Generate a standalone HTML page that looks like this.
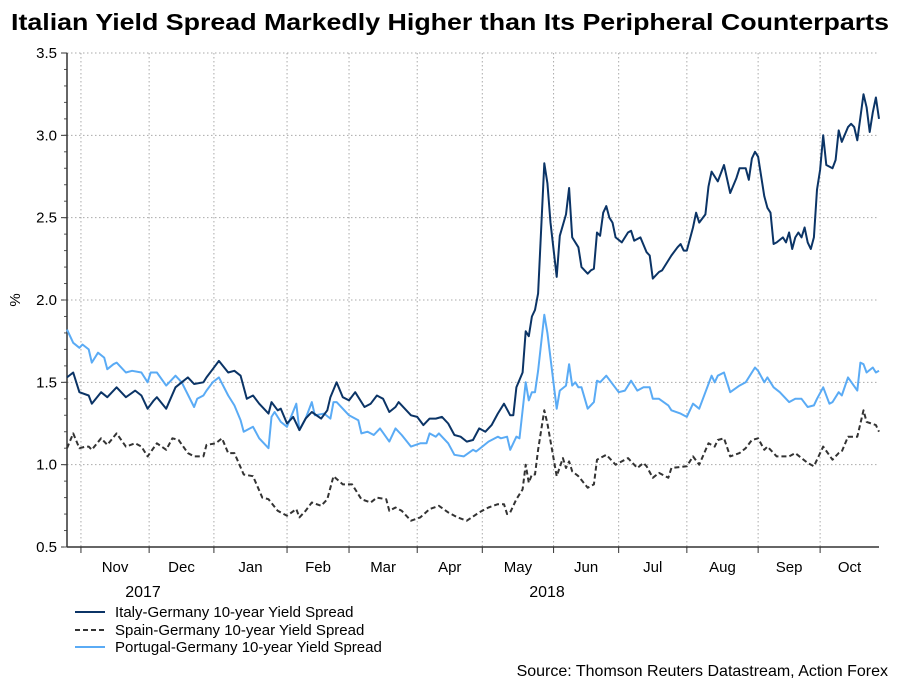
<!DOCTYPE html>
<html><head><meta charset="utf-8">
<style>
body{margin:0;background:#fff;}
svg{display:block;font-family:"Liberation Sans",Arial,sans-serif;}
</style></head>
<body>
<svg id="chart" width="909" height="682" viewBox="0 0 909 682">
<text x="450" y="30" text-anchor="middle" font-size="23" font-weight="bold" textLength="878" lengthAdjust="spacingAndGlyphs">Italian Yield Spread Markedly Higher than Its Peripheral Counterparts</text>
<g id="grid"></g>
<g id="axes"></g>
<g id="series"></g>
<text x="20" y="300" font-size="15" text-anchor="middle" transform="rotate(-90 20 300)">%</text>
<text x="143" y="597" font-size="16" text-anchor="middle">2017</text>
<text x="547" y="597" font-size="16" text-anchor="middle">2018</text>
<g>
<g><line x1="75" y1="612" x2="105" y2="612" stroke="#0b3466" stroke-width="2"/><text x="115" y="617" font-size="15">Italy-Germany 10-year Yield Spread</text></g>
<g><line x1="75" y1="630" x2="105" y2="630" stroke="#333" stroke-width="2" stroke-dasharray="5,3"/><text x="115" y="635" font-size="15">Spain-Germany 10-year Yield Spread</text></g>
<g><line x1="75" y1="647" x2="105" y2="647" stroke="#5aabf5" stroke-width="2"/><text x="115" y="652" font-size="15">Portugal-Germany 10-year Yield Spread</text></g>
</g>
<text x="888" y="676" font-size="16" text-anchor="end">Source: Thomson Reuters Datastream, Action Forex</text>
</svg>
<script>
const yTicks=[0.5,1.0,1.5,2.0,2.5,3.0,3.5];
const monthLabels=["Nov","Dec","Jan","Feb","Mar","Apr","May","Jun","Jul","Aug","Sep","Oct"];
const monthStarts=[4.5,26.5,47.4,71,91,113,134,157,178,200,223,243];
const italyDays=[0,2,4,7,8,11,13,16,19,22,24,26,28,29,32,35,37,39,41,44,45,47,49,52,54,56,58,60,62,65,66,68,69,71,73,75,77,79,82,84,85,87,89,91,93,96,98,100,102,104,106,107,111,113,115,117,119,121,123,125,127,129,131,133,135,137,139,141,143,144,145,147,148,149,150,151,152,154,155,156,158,159,161,162,163,165,166,168,169,170,171,172,173,174,175,176,177,179,181,182,183,185,187,188,189,191,192,195,197,198,199,200,202,203,204,206,207,208,210,212,214,216,217,219,220,221,222,223,225,226,227,228,229,231,232,233,234,235,236,237,238,239,240,241,242,243,244,245,247,248,249,250,252,253,254,255,256,257,258,259,260,261,262];
const italyValues=[1.53,1.56,1.44,1.42,1.37,1.44,1.41,1.47,1.41,1.45,1.42,1.34,1.39,1.41,1.34,1.47,1.50,1.53,1.49,1.50,1.53,1.58,1.63,1.56,1.57,1.54,1.40,1.42,1.37,1.31,1.38,1.33,1.34,1.25,1.29,1.21,1.28,1.32,1.28,1.33,1.41,1.50,1.41,1.39,1.44,1.35,1.37,1.42,1.40,1.32,1.35,1.38,1.30,1.29,1.24,1.28,1.28,1.29,1.25,1.18,1.17,1.14,1.15,1.22,1.20,1.24,1.31,1.37,1.30,1.30,1.47,1.56,1.81,1.78,1.90,1.94,2.04,2.83,2.71,2.47,2.14,2.39,2.52,2.68,2.38,2.32,2.20,2.16,2.18,2.19,2.41,2.39,2.53,2.57,2.50,2.47,2.38,2.35,2.41,2.42,2.36,2.38,2.29,2.27,2.13,2.17,2.18,2.27,2.32,2.34,2.30,2.30,2.44,2.53,2.47,2.52,2.69,2.78,2.72,2.82,2.65,2.74,2.80,2.80,2.73,2.86,2.90,2.87,2.63,2.56,2.53,2.34,2.35,2.38,2.35,2.41,2.31,2.38,2.41,2.38,2.44,2.35,2.31,2.38,2.67,2.79,3.00,2.82,2.80,2.85,3.03,2.96,3.05,3.07,3.05,2.97,3.11,3.25,3.17,3.02,3.14,3.23,3.10];
const spainDays=[0,2,4,6,7,8,11,13,16,19,22,24,26,29,32,34,36,39,41,44,45,48,50,52,54,57,60,63,65,68,71,74,75,77,79,82,84,86,89,92,95,98,100,103,104,106,108,111,114,117,120,123,126,129,133,136,139,141,142,143,145,147,148,149,150,151,152,154,155,158,160,161,162,163,165,168,170,171,174,177,181,184,186,187,189,191,194,195,200,202,204,207,209,210,212,214,217,219,221,223,225,226,229,233,235,239,241,244,247,249,250,252,255,256,257,258,261,262];
const spainValues=[1.10,1.19,1.10,1.11,1.11,1.09,1.16,1.12,1.19,1.11,1.13,1.11,1.05,1.13,1.09,1.16,1.15,1.07,1.05,1.05,1.12,1.13,1.16,1.07,1.07,0.94,0.93,0.80,0.79,0.72,0.69,0.73,0.68,0.72,0.77,0.75,0.79,0.93,0.88,0.88,0.79,0.77,0.80,0.79,0.72,0.74,0.72,0.66,0.68,0.73,0.75,0.71,0.68,0.66,0.71,0.74,0.76,0.76,0.70,0.71,0.79,0.85,1.00,0.89,0.94,0.94,1.09,1.33,1.25,0.93,1.04,0.98,1.02,0.96,0.93,0.86,0.88,1.03,1.06,1.00,1.04,0.98,1.01,0.99,0.92,0.95,0.92,0.98,0.99,1.05,1.00,1.13,1.11,1.15,1.16,1.05,1.07,1.10,1.15,1.16,1.09,1.11,1.05,1.05,1.07,1.01,0.99,1.11,1.03,1.07,1.08,1.17,1.17,1.25,1.33,1.26,1.24,1.20];
const portugalDays=[0,2,4,5,7,8,10,12,13,15,16,19,21,24,26,27,29,32,35,37,41,42,44,45,47,49,52,54,56,57,60,62,65,66,67,69,71,74,75,77,79,80,83,85,86,87,89,91,94,95,97,99,101,104,106,108,111,114,116,117,119,120,123,125,128,131,132,134,136,139,140,142,143,145,146,148,149,150,151,152,154,155,158,159,161,162,163,164,165,166,168,170,171,172,174,178,180,182,184,186,188,189,191,194,195,198,200,202,204,206,208,209,210,212,214,217,219,222,223,225,226,228,230,233,235,237,239,241,242,244,246,247,249,250,252,255,256,257,258,260,261,262];
const portugalValues=[1.82,1.74,1.71,1.73,1.70,1.62,1.68,1.65,1.58,1.61,1.62,1.56,1.57,1.56,1.50,1.56,1.56,1.48,1.54,1.50,1.35,1.40,1.42,1.45,1.50,1.53,1.42,1.36,1.27,1.20,1.23,1.16,1.10,1.29,1.32,1.26,1.23,1.37,1.21,1.28,1.38,1.30,1.31,1.28,1.38,1.38,1.34,1.30,1.27,1.19,1.20,1.18,1.22,1.14,1.22,1.18,1.11,1.13,1.13,1.19,1.17,1.19,1.13,1.06,1.05,1.09,1.08,1.11,1.14,1.17,1.16,1.17,1.09,1.17,1.16,1.50,1.39,1.44,1.44,1.57,1.91,1.80,1.34,1.45,1.48,1.61,1.48,1.50,1.47,1.47,1.34,1.38,1.51,1.50,1.54,1.44,1.45,1.51,1.45,1.47,1.47,1.40,1.40,1.36,1.33,1.31,1.29,1.37,1.34,1.44,1.54,1.50,1.54,1.56,1.44,1.48,1.50,1.59,1.57,1.50,1.53,1.47,1.44,1.38,1.40,1.40,1.35,1.36,1.40,1.47,1.37,1.38,1.44,1.42,1.53,1.45,1.62,1.61,1.56,1.59,1.56,1.57];

const NS="http://www.w3.org/2000/svg";
const L=67,R=879,T=53,B=547,D0=0,D1=262,V0=0.5,V1=3.5;
const xs=d=>L+(d-D0)/(D1-D0)*(R-L);
const ys=v=>B-(v-V0)/(V1-V0)*(B-T);
function mk(tag,attrs,parent){const e=document.createElementNS(NS,tag);for(const k in attrs)e.setAttribute(k,attrs[k]);parent.appendChild(e);return e;}
const grid=document.getElementById('grid'),axes=document.getElementById('axes'),series=document.getElementById('series');
yTicks.forEach((v,i)=>{
  if(v>V0){const g=mk('line',{x1:L,x2:R,y1:ys(v),y2:ys(v),stroke:'#aaa','stroke-width':1,'stroke-dasharray':'1.5,2.5'},grid);
  
  }
  const t=mk('text',{x:L-10,y:ys(v)+5,'font-size':15,'text-anchor':'end'},axes);
  t.textContent=v.toFixed(1);
  
  
  mk('line',{x1:L-6,x2:L,y1:ys(v),y2:ys(v),stroke:'#333'},axes);
});
for(let v=V0;v<V1-0.001;v+=0.1){mk('line',{x1:L-3,x2:L,y1:ys(v),y2:ys(v),stroke:'#555'},axes);}
monthStarts.forEach((d,i)=>{
  const g=mk('line',{x1:xs(d),x2:xs(d),y1:T,y2:B,stroke:'#aaa','stroke-width':1,'stroke-dasharray':'1.5,2.5'},grid);
  
  
  mk('line',{x1:xs(d),x2:xs(d),y1:B,y2:B+6,stroke:'#333'},axes);
  const next=i<monthStarts.length-1?monthStarts[i+1]:D1;
  const t=mk('text',{x:(xs(d)+xs(next))/2,y:B+25,'font-size':15,'text-anchor':'middle'},axes);
  t.textContent=monthLabels[i];
  
  
});
mk('line',{x1:L,x2:L,y1:T,y2:B,stroke:'#333','stroke-width':1.5},axes);
mk('line',{x1:L,x2:R,y1:B,y2:B,stroke:'#333','stroke-width':1.5},axes);
function line(days,vals,color,dash,name){
  const d=days.map((t,i)=>(i?'L':'M')+xs(t).toFixed(1)+','+ys(vals[i]).toFixed(1)).join('');
  const p=mk('path',{d:d,fill:'none',stroke:color,'stroke-width':2,'stroke-linejoin':'round'},series);
  if(dash)p.setAttribute('stroke-dasharray',dash);
  
  
}
line(spainDays,spainValues,'#333','5,3','spain-line');
line(portugalDays,portugalValues,'#5aabf5',null,'portugal-line');
line(italyDays,italyValues,'#0b3466',null,'italy-line');
</script>
</body></html>
